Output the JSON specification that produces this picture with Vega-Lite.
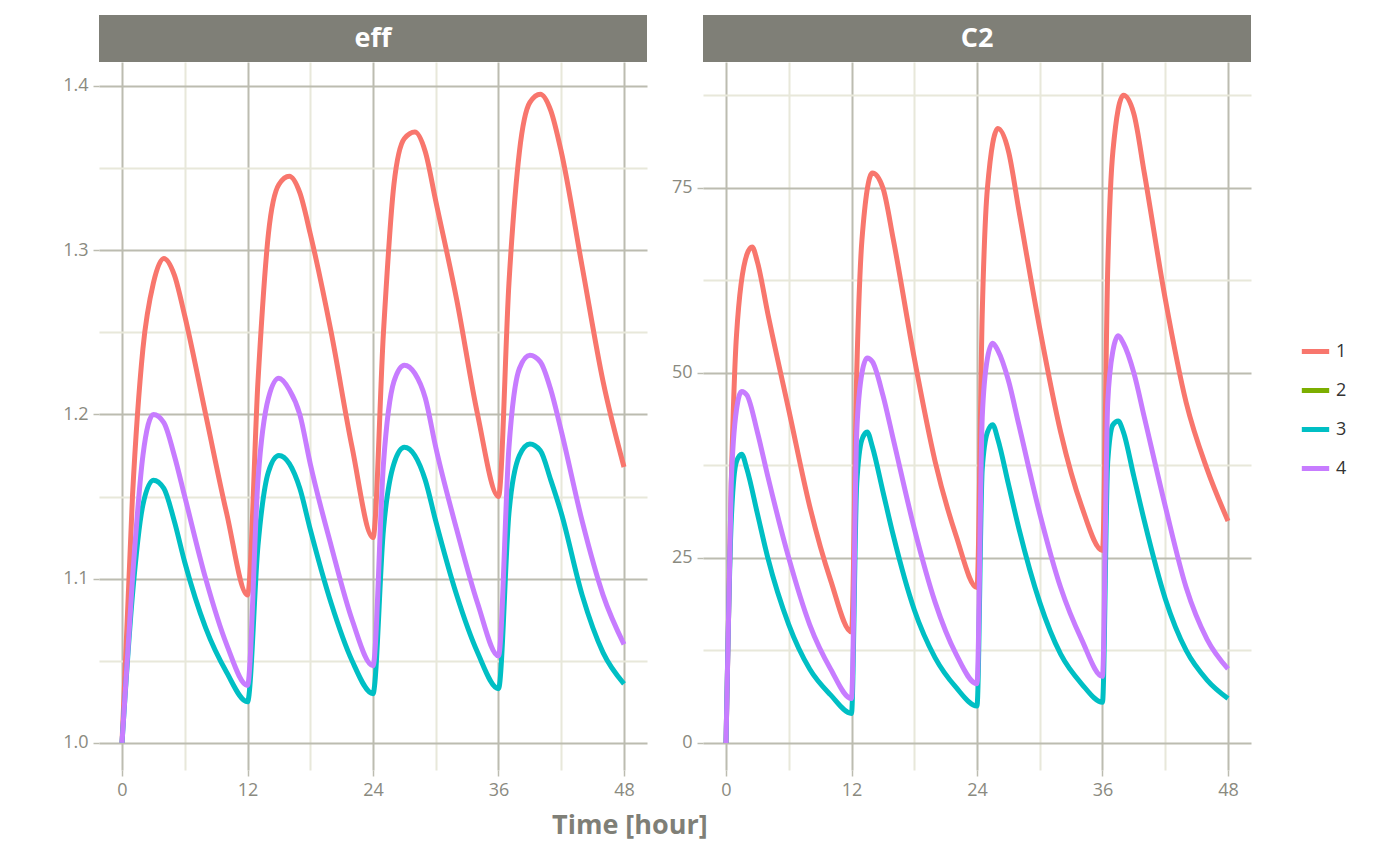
{
  "$schema": "https://vega.github.io/schema/vega-lite/v6.json",
  "background": "white",
  "padding": {"left": 62, "top": 15, "right": 10, "bottom": 5},
  "title": {"text": "Time [hour]", "orient": "bottom", "anchor": "middle", "fontSize": 27, "fontWeight": "bold", "color": "#7f7f77", "offset": 14, "dx": -75},
  "datasets": {
    "d": [
      {"var":"eff","id":"1","time":0,"value":1.0},{"var":"eff","id":"1","time":1,"value":1.15},{"var":"eff","id":"1","time":2,"value":1.24},{"var":"eff","id":"1","time":3,"value":1.28},{"var":"eff","id":"1","time":4,"value":1.295},{"var":"eff","id":"1","time":5,"value":1.285},{"var":"eff","id":"1","time":6,"value":1.26},{"var":"eff","id":"1","time":8,"value":1.2},{"var":"eff","id":"1","time":10,"value":1.14},{"var":"eff","id":"1","time":12,"value":1.09},
      {"var":"eff","id":"1","time":13,"value":1.22},{"var":"eff","id":"1","time":14,"value":1.31},{"var":"eff","id":"1","time":15,"value":1.34},{"var":"eff","id":"1","time":16,"value":1.345},{"var":"eff","id":"1","time":17,"value":1.335},{"var":"eff","id":"1","time":18,"value":1.31},{"var":"eff","id":"1","time":20,"value":1.25},{"var":"eff","id":"1","time":22,"value":1.18},{"var":"eff","id":"1","time":24,"value":1.125},
      {"var":"eff","id":"1","time":25,"value":1.25},{"var":"eff","id":"1","time":26,"value":1.34},{"var":"eff","id":"1","time":27,"value":1.368},{"var":"eff","id":"1","time":28,"value":1.372},{"var":"eff","id":"1","time":29,"value":1.36},{"var":"eff","id":"1","time":30,"value":1.33},{"var":"eff","id":"1","time":32,"value":1.27},{"var":"eff","id":"1","time":34,"value":1.2},{"var":"eff","id":"1","time":36,"value":1.15},
      {"var":"eff","id":"1","time":37,"value":1.28},{"var":"eff","id":"1","time":38,"value":1.36},{"var":"eff","id":"1","time":39,"value":1.39},{"var":"eff","id":"1","time":40,"value":1.395},{"var":"eff","id":"1","time":41,"value":1.385},{"var":"eff","id":"1","time":42,"value":1.36},{"var":"eff","id":"1","time":44,"value":1.29},{"var":"eff","id":"1","time":46,"value":1.22},{"var":"eff","id":"1","time":48,"value":1.168},

      {"var":"eff","id":"3","time":0,"value":1.0},{"var":"eff","id":"3","time":1,"value":1.09},{"var":"eff","id":"3","time":2,"value":1.145},{"var":"eff","id":"3","time":3,"value":1.16},{"var":"eff","id":"3","time":4,"value":1.155},{"var":"eff","id":"3","time":5,"value":1.135},{"var":"eff","id":"3","time":6,"value":1.11},{"var":"eff","id":"3","time":8,"value":1.07},{"var":"eff","id":"3","time":10,"value":1.043},{"var":"eff","id":"3","time":12,"value":1.025},
      {"var":"eff","id":"3","time":13,"value":1.12},{"var":"eff","id":"3","time":14,"value":1.165},{"var":"eff","id":"3","time":15,"value":1.175},{"var":"eff","id":"3","time":16,"value":1.17},{"var":"eff","id":"3","time":17,"value":1.155},{"var":"eff","id":"3","time":18,"value":1.13},{"var":"eff","id":"3","time":20,"value":1.085},{"var":"eff","id":"3","time":22,"value":1.05},{"var":"eff","id":"3","time":24,"value":1.03},
      {"var":"eff","id":"3","time":25,"value":1.13},{"var":"eff","id":"3","time":26,"value":1.17},{"var":"eff","id":"3","time":27,"value":1.18},{"var":"eff","id":"3","time":28,"value":1.175},{"var":"eff","id":"3","time":29,"value":1.16},{"var":"eff","id":"3","time":30,"value":1.135},{"var":"eff","id":"3","time":32,"value":1.09},{"var":"eff","id":"3","time":34,"value":1.055},{"var":"eff","id":"3","time":36,"value":1.033},
      {"var":"eff","id":"3","time":37,"value":1.14},{"var":"eff","id":"3","time":38,"value":1.175},{"var":"eff","id":"3","time":39,"value":1.182},{"var":"eff","id":"3","time":40,"value":1.178},{"var":"eff","id":"3","time":41,"value":1.16},{"var":"eff","id":"3","time":42,"value":1.14},{"var":"eff","id":"3","time":44,"value":1.09},{"var":"eff","id":"3","time":46,"value":1.055},{"var":"eff","id":"3","time":48,"value":1.036},

      {"var":"eff","id":"4","time":0,"value":1.0},{"var":"eff","id":"4","time":1,"value":1.1},{"var":"eff","id":"4","time":2,"value":1.175},{"var":"eff","id":"4","time":3,"value":1.2},{"var":"eff","id":"4","time":4,"value":1.195},{"var":"eff","id":"4","time":5,"value":1.175},{"var":"eff","id":"4","time":6,"value":1.15},{"var":"eff","id":"4","time":8,"value":1.1},{"var":"eff","id":"4","time":10,"value":1.06},{"var":"eff","id":"4","time":12,"value":1.035},
      {"var":"eff","id":"4","time":13,"value":1.16},{"var":"eff","id":"4","time":14,"value":1.21},{"var":"eff","id":"4","time":15,"value":1.222},{"var":"eff","id":"4","time":16,"value":1.215},{"var":"eff","id":"4","time":17,"value":1.2},{"var":"eff","id":"4","time":18,"value":1.17},{"var":"eff","id":"4","time":20,"value":1.12},{"var":"eff","id":"4","time":22,"value":1.075},{"var":"eff","id":"4","time":24,"value":1.047},
      {"var":"eff","id":"4","time":25,"value":1.17},{"var":"eff","id":"4","time":26,"value":1.22},{"var":"eff","id":"4","time":27,"value":1.23},{"var":"eff","id":"4","time":28,"value":1.225},{"var":"eff","id":"4","time":29,"value":1.21},{"var":"eff","id":"4","time":30,"value":1.18},{"var":"eff","id":"4","time":32,"value":1.13},{"var":"eff","id":"4","time":34,"value":1.085},{"var":"eff","id":"4","time":36,"value":1.053},
      {"var":"eff","id":"4","time":37,"value":1.18},{"var":"eff","id":"4","time":38,"value":1.228},{"var":"eff","id":"4","time":39,"value":1.236},{"var":"eff","id":"4","time":40,"value":1.232},{"var":"eff","id":"4","time":41,"value":1.215},{"var":"eff","id":"4","time":42,"value":1.19},{"var":"eff","id":"4","time":44,"value":1.135},{"var":"eff","id":"4","time":46,"value":1.09},{"var":"eff","id":"4","time":48,"value":1.06},

      {"var":"C2","id":"1","time":0,"value":0},{"var":"C2","id":"1","time":0.5,"value":35},{"var":"C2","id":"1","time":1,"value":55},{"var":"C2","id":"1","time":2,"value":66},{"var":"C2","id":"1","time":2.5,"value":67},{"var":"C2","id":"1","time":3,"value":65},{"var":"C2","id":"1","time":4,"value":58},{"var":"C2","id":"1","time":6,"value":45},{"var":"C2","id":"1","time":8,"value":32},{"var":"C2","id":"1","time":10,"value":22},{"var":"C2","id":"1","time":12,"value":15},
      {"var":"C2","id":"1","time":12.5,"value":50},{"var":"C2","id":"1","time":13,"value":68},{"var":"C2","id":"1","time":14,"value":77},{"var":"C2","id":"1","time":15,"value":75},{"var":"C2","id":"1","time":16,"value":68},{"var":"C2","id":"1","time":18,"value":52},{"var":"C2","id":"1","time":20,"value":38},{"var":"C2","id":"1","time":22,"value":28},{"var":"C2","id":"1","time":24,"value":21},
      {"var":"C2","id":"1","time":24.5,"value":58},{"var":"C2","id":"1","time":25,"value":75},{"var":"C2","id":"1","time":26,"value":83},{"var":"C2","id":"1","time":27,"value":80},{"var":"C2","id":"1","time":28,"value":72},{"var":"C2","id":"1","time":30,"value":56},{"var":"C2","id":"1","time":32,"value":42},{"var":"C2","id":"1","time":34,"value":32},{"var":"C2","id":"1","time":36,"value":26},
      {"var":"C2","id":"1","time":36.5,"value":64},{"var":"C2","id":"1","time":37,"value":80},{"var":"C2","id":"1","time":38,"value":87.5},{"var":"C2","id":"1","time":39,"value":85},{"var":"C2","id":"1","time":40,"value":77},{"var":"C2","id":"1","time":42,"value":60},{"var":"C2","id":"1","time":44,"value":46},{"var":"C2","id":"1","time":46,"value":37},{"var":"C2","id":"1","time":48,"value":30},

      {"var":"C2","id":"3","time":0,"value":0},{"var":"C2","id":"3","time":0.5,"value":30},{"var":"C2","id":"3","time":1,"value":38},{"var":"C2","id":"3","time":1.5,"value":39},{"var":"C2","id":"3","time":2,"value":37},{"var":"C2","id":"3","time":3,"value":31},{"var":"C2","id":"3","time":4,"value":25},{"var":"C2","id":"3","time":6,"value":16},{"var":"C2","id":"3","time":8,"value":10},{"var":"C2","id":"3","time":10,"value":6.5},{"var":"C2","id":"3","time":12,"value":4},
      {"var":"C2","id":"3","time":12.5,"value":35},{"var":"C2","id":"3","time":13,"value":41},{"var":"C2","id":"3","time":13.5,"value":42},{"var":"C2","id":"3","time":14,"value":40},{"var":"C2","id":"3","time":15,"value":34},{"var":"C2","id":"3","time":16,"value":28},{"var":"C2","id":"3","time":18,"value":18},{"var":"C2","id":"3","time":20,"value":11.5},{"var":"C2","id":"3","time":22,"value":7.5},{"var":"C2","id":"3","time":24,"value":5},
      {"var":"C2","id":"3","time":24.5,"value":37},{"var":"C2","id":"3","time":25,"value":42},{"var":"C2","id":"3","time":25.5,"value":43},{"var":"C2","id":"3","time":26,"value":41},{"var":"C2","id":"3","time":27,"value":35},{"var":"C2","id":"3","time":28,"value":29},{"var":"C2","id":"3","time":30,"value":19},{"var":"C2","id":"3","time":32,"value":12},{"var":"C2","id":"3","time":34,"value":8},{"var":"C2","id":"3","time":36,"value":5.5},
      {"var":"C2","id":"3","time":36.5,"value":38},{"var":"C2","id":"3","time":37,"value":43},{"var":"C2","id":"3","time":37.5,"value":43.5},{"var":"C2","id":"3","time":38,"value":42},{"var":"C2","id":"3","time":39,"value":36},{"var":"C2","id":"3","time":40,"value":30},{"var":"C2","id":"3","time":42,"value":19.5},{"var":"C2","id":"3","time":44,"value":12.5},{"var":"C2","id":"3","time":46,"value":8.5},{"var":"C2","id":"3","time":48,"value":6},

      {"var":"C2","id":"4","time":0,"value":0},{"var":"C2","id":"4","time":0.5,"value":35},{"var":"C2","id":"4","time":1,"value":45},{"var":"C2","id":"4","time":1.5,"value":47.5},{"var":"C2","id":"4","time":2,"value":47},{"var":"C2","id":"4","time":3,"value":42},{"var":"C2","id":"4","time":4,"value":36},{"var":"C2","id":"4","time":6,"value":25},{"var":"C2","id":"4","time":8,"value":16},{"var":"C2","id":"4","time":10,"value":10},{"var":"C2","id":"4","time":12,"value":6},
      {"var":"C2","id":"4","time":12.5,"value":42},{"var":"C2","id":"4","time":13,"value":50},{"var":"C2","id":"4","time":13.5,"value":52},{"var":"C2","id":"4","time":14,"value":51.5},{"var":"C2","id":"4","time":15,"value":47},{"var":"C2","id":"4","time":16,"value":41},{"var":"C2","id":"4","time":18,"value":29},{"var":"C2","id":"4","time":20,"value":19},{"var":"C2","id":"4","time":22,"value":12},{"var":"C2","id":"4","time":24,"value":8},
      {"var":"C2","id":"4","time":24.5,"value":44},{"var":"C2","id":"4","time":25,"value":52},{"var":"C2","id":"4","time":25.5,"value":54},{"var":"C2","id":"4","time":26,"value":53},{"var":"C2","id":"4","time":27,"value":49},{"var":"C2","id":"4","time":28,"value":43},{"var":"C2","id":"4","time":30,"value":31},{"var":"C2","id":"4","time":32,"value":21},{"var":"C2","id":"4","time":34,"value":14},{"var":"C2","id":"4","time":36,"value":9},
      {"var":"C2","id":"4","time":36.5,"value":46},{"var":"C2","id":"4","time":37,"value":53},{"var":"C2","id":"4","time":37.5,"value":55},{"var":"C2","id":"4","time":38,"value":54},{"var":"C2","id":"4","time":39,"value":50},{"var":"C2","id":"4","time":40,"value":44},{"var":"C2","id":"4","time":42,"value":32},{"var":"C2","id":"4","time":44,"value":21},{"var":"C2","id":"4","time":46,"value":14},{"var":"C2","id":"4","time":48,"value":10}
    ]
  },
  "hconcat": [
    {
      "spacing": 0,
      "vconcat": [
        {
          "width": 548, "height": 47,
          "data": {"values": [{"s": "eff"}]},
          "layer": [
            {"mark": {"type": "rect", "color": "#7f7f77"}, "encoding": {"x": {"field": "s", "type": "nominal", "axis": null, "scale": {"paddingInner": 0, "paddingOuter": 0}}}},
            {"mark": {"type": "text", "color": "white", "fontSize": 27, "fontWeight": "bold"}, "encoding": {"x": {"field": "s", "type": "nominal", "axis": null}, "text": {"field": "s"}}}
          ]
        },
        {
          "width": 548, "height": 708,
          "data": {"name": "d"},
          "transform": [{"filter": "datum.var == 'eff'"}],
          "mark": {"type": "line", "strokeWidth": 5, "interpolate": "monotone"},
          "encoding": {
            "x": {"field": "time", "type": "quantitative", "scale": {"domain": [-2.2, 50.2], "nice": false, "zero": false},
              "axis": {"title": null, "values": [0, 6, 12, 18, 24, 30, 36, 42, 48], "labelExpr": "datum.value % 12 == 0 ? datum.label : ''",
                "gridColor": {"condition": {"test": "datum.value % 12 == 0", "value": "#bcbcb0"}, "value": "#e8e8da"},
                "tickColor": {"condition": {"test": "datum.value % 12 == 0", "value": "#bcbcb0"}, "value": "transparent"}}},
            "y": {"field": "value", "type": "quantitative", "scale": {"domain": [0.9835, 1.4146], "nice": false, "zero": false},
              "axis": {"title": null, "values": [1.0, 1.05, 1.1, 1.15, 1.2, 1.25, 1.3, 1.35, 1.4], "format": ".1f",
                "labelExpr": "abs(datum.value*10 - round(datum.value*10)) < 0.01 ? datum.label : ''",
                "gridColor": {"condition": {"test": "abs(datum.value*10 - round(datum.value*10)) < 0.01", "value": "#bcbcb0"}, "value": "#e8e8da"},
                "tickColor": {"condition": {"test": "abs(datum.value*10 - round(datum.value*10)) < 0.01", "value": "#bcbcb0"}, "value": "transparent"}}},
            "color": {"field": "id", "type": "nominal", "scale": {"domain": ["1", "2", "3", "4"], "range": ["#F8766D", "#7CAE00", "#00BFC4", "#C77CFF"]}, "legend": {"title": null}}
          }
        }
      ]
    },
    {
      "spacing": 0,
      "vconcat": [
        {
          "width": 548, "height": 47,
          "data": {"values": [{"s": "C2"}]},
          "layer": [
            {"mark": {"type": "rect", "color": "#7f7f77"}, "encoding": {"x": {"field": "s", "type": "nominal", "axis": null, "scale": {"paddingInner": 0, "paddingOuter": 0}}}},
            {"mark": {"type": "text", "color": "white", "fontSize": 27, "fontWeight": "bold"}, "encoding": {"x": {"field": "s", "type": "nominal", "axis": null}, "text": {"field": "s"}}}
          ]
        },
        {
          "width": 548, "height": 708,
          "data": {"name": "d"},
          "transform": [{"filter": "datum.var == 'C2'"}],
          "mark": {"type": "line", "strokeWidth": 5, "interpolate": "monotone"},
          "encoding": {
            "x": {"field": "time", "type": "quantitative", "scale": {"domain": [-2.2, 50.2], "nice": false, "zero": false},
              "axis": {"title": null, "values": [0, 6, 12, 18, 24, 30, 36, 42, 48], "labelExpr": "datum.value % 12 == 0 ? datum.label : ''",
                "gridColor": {"condition": {"test": "datum.value % 12 == 0", "value": "#bcbcb0"}, "value": "#e8e8da"},
                "tickColor": {"condition": {"test": "datum.value % 12 == 0", "value": "#bcbcb0"}, "value": "transparent"}}},
            "y": {"field": "value", "type": "quantitative", "scale": {"domain": [-3.65, 92], "nice": false, "zero": false},
              "axis": {"title": null, "values": [0, 12.5, 25, 37.5, 50, 62.5, 75, 87.5],
                "labelExpr": "datum.value % 25 == 0 ? datum.label : ''",
                "gridColor": {"condition": {"test": "datum.value % 25 == 0", "value": "#bcbcb0"}, "value": "#e8e8da"},
                "tickColor": {"condition": {"test": "datum.value % 25 == 0", "value": "#bcbcb0"}, "value": "transparent"}}},
            "color": {"field": "id", "type": "nominal", "scale": {"domain": ["1", "2", "3", "4"], "range": ["#F8766D", "#7CAE00", "#00BFC4", "#C77CFF"]}, "legend": {"title": null}}
          }
        }
      ]
    }
  ],
  "spacing": 24,
  "config": {
    "font": "Open Sans",
    "view": {"stroke": null},
    "axis": {"domain": false, "labelColor": "#8a8a80", "labelFontSize": 18, "tickSize": 6, "tickWidth": 1.5, "gridWidth": 2, "labelPadding": 5},
    "legend": {"symbolType": "stroke", "symbolStrokeWidth": 5, "symbolSize": 750, "labelFontSize": 18, "labelColor": "#333333", "rowPadding": 12, "orient": "right", "offset": 48, "padding": 0, "layout": {"right": {"anchor": "middle"}}}
  }
}
